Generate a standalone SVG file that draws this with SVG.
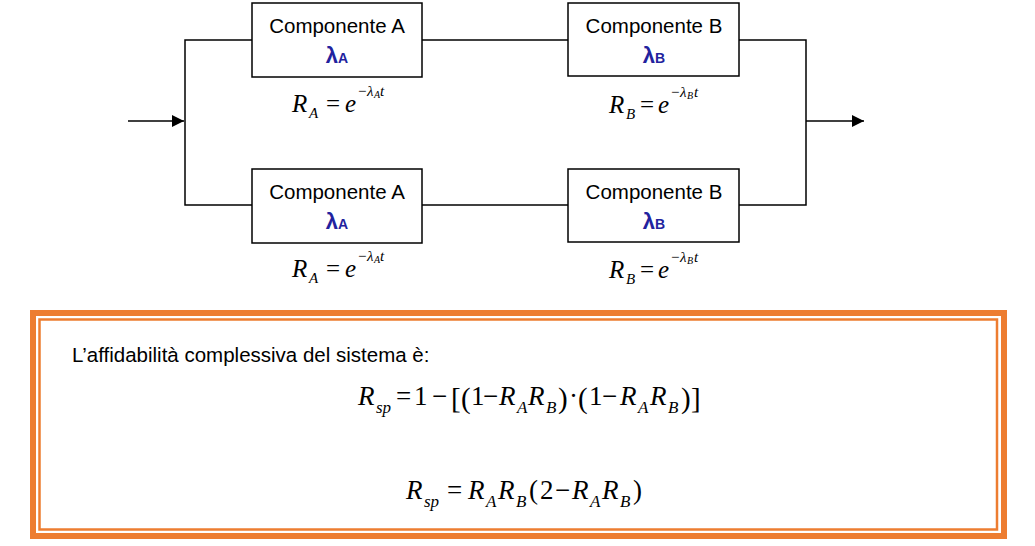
<svg xmlns="http://www.w3.org/2000/svg" width="1035" height="546" viewBox="0 0 1035 546">
<style>
.box{fill:#fff;stroke:#000;stroke-width:1.5}
.lbl{font-family:"Liberation Sans",Arial,sans-serif;font-size:20.5px;fill:#000;text-anchor:middle}
.lam{font-family:"Liberation Sans",Arial,sans-serif;font-weight:bold;fill:#22229E;text-anchor:middle}
.m{font-family:"Liberation Serif","Times New Roman",serif;fill:#000}
.i{font-style:italic}
.line{fill:none;stroke:#000;stroke-width:1.5}
</style>
<defs>
<marker id="ah" viewBox="0 0 12 12" refX="12" refY="6" markerWidth="12" markerHeight="12" markerUnits="userSpaceOnUse" orient="auto">
<path d="M0,0 L12,6 L0,12 z" fill="#000"/>
</marker>
</defs>
<g id="connectors">
<path class="line" d="M252,40 H185 V205 H252"/>
<path class="line" d="M422,40 H568"/>
<path class="line" d="M422,205 H568"/>
<path class="line" d="M739,40 H806 V205 H739"/>
<path class="line" d="M128,121 H184" marker-end="url(#ah)"/>
<path class="line" d="M806,121 H864" marker-end="url(#ah)"/>
</g>
<g id="nodeA1">
<rect class="box" x="252" y="3" width="170" height="74"/>
<text class="lbl" x="337" y="33">Componente A</text>
<text class="lam" x="337" y="63" font-size="22">λ<tspan font-size="14">A</tspan></text>
</g>
<g id="nodeB1">
<rect class="box" x="568" y="3" width="171" height="73"/>
<text class="lbl" x="654" y="33">Componente B</text>
<text class="lam" x="654" y="63" font-size="22">λ<tspan font-size="14">B</tspan></text>
</g>
<g id="nodeA2">
<rect class="box" x="252" y="169" width="170" height="74"/>
<text class="lbl" x="337" y="199">Componente A</text>
<text class="lam" x="337" y="229" font-size="22">λ<tspan font-size="14">A</tspan></text>
</g>
<g id="nodeB2">
<rect class="box" x="568" y="169" width="171" height="73"/>
<text class="lbl" x="654" y="199">Componente B</text>
<text class="lam" x="654" y="229" font-size="22">λ<tspan font-size="14">B</tspan></text>
</g>
<g id="eqA1">
<text class="m" font-size="25"><tspan class="i" x="292" y="112">R</tspan><tspan class="i" x="309" y="118" font-size="15">A</tspan><tspan x="326" y="112">=</tspan><tspan class="i" x="345" y="112">e</tspan><tspan x="358" y="96" font-size="15">−</tspan><tspan class="i" x="367" y="96" font-size="15">λ</tspan><tspan class="i" x="374" y="98" font-size="10">A</tspan><tspan class="i" x="380" y="96" font-size="15">t</tspan></text>
</g>
<g id="eqB1">
<text class="m" font-size="25"><tspan class="i" x="609" y="113">R</tspan><tspan class="i" x="626" y="119" font-size="15">B</tspan><tspan x="640" y="113">=</tspan><tspan class="i" x="658" y="113">e</tspan><tspan x="671" y="97" font-size="15">−</tspan><tspan class="i" x="680" y="97" font-size="15">λ</tspan><tspan class="i" x="687" y="99" font-size="10">B</tspan><tspan class="i" x="694" y="97" font-size="15">t</tspan></text>
</g>
<g id="eqA2">
<text class="m" font-size="25"><tspan class="i" x="292" y="277">R</tspan><tspan class="i" x="309" y="283" font-size="15">A</tspan><tspan x="326" y="277">=</tspan><tspan class="i" x="345" y="277">e</tspan><tspan x="358" y="261" font-size="15">−</tspan><tspan class="i" x="367" y="261" font-size="15">λ</tspan><tspan class="i" x="374" y="263" font-size="10">A</tspan><tspan class="i" x="380" y="261" font-size="15">t</tspan></text>
</g>
<g id="eqB2">
<text class="m" font-size="25"><tspan class="i" x="609" y="278">R</tspan><tspan class="i" x="626" y="284" font-size="15">B</tspan><tspan x="640" y="278">=</tspan><tspan class="i" x="658" y="278">e</tspan><tspan x="671" y="262" font-size="15">−</tspan><tspan class="i" x="680" y="262" font-size="15">λ</tspan><tspan class="i" x="687" y="264" font-size="10">B</tspan><tspan class="i" x="694" y="262" font-size="15">t</tspan></text>
</g>
<g id="result">
<rect x="33" y="313" width="971" height="223" fill="none" stroke="#ED7D31" stroke-width="6"/>
<rect x="39.5" y="319.5" width="957.5" height="210" fill="none" stroke="#ED7D31" stroke-width="2.5"/>
<text x="72" y="362" font-family="Liberation Sans,Arial,sans-serif" font-size="20.5" fill="#000">L’affidabilità complessiva del sistema è:</text>
<text id="f1" class="m" font-size="27"><tspan class="i" x="358" y="405">R</tspan><tspan class="i" x="376" y="413" font-size="17">sp</tspan><tspan x="396" y="405">=</tspan><tspan x="414" y="405">1</tspan><tspan x="432" y="405">−</tspan><tspan x="451" y="408" font-size="29">[</tspan><tspan x="461" y="408" font-size="29">(</tspan><tspan x="471" y="405">1</tspan><tspan x="483" y="405">−</tspan><tspan class="i" x="499" y="405">R</tspan><tspan class="i" x="517" y="413" font-size="17">A</tspan><tspan class="i" x="528" y="405">R</tspan><tspan class="i" x="546" y="413" font-size="17">B</tspan><tspan x="558" y="408" font-size="29">)</tspan><tspan x="569" y="405">·</tspan><tspan x="578" y="408" font-size="29">(</tspan><tspan x="589" y="405">1</tspan><tspan x="602" y="405">−</tspan><tspan class="i" x="620" y="405">R</tspan><tspan class="i" x="638" y="413" font-size="17">A</tspan><tspan class="i" x="650" y="405">R</tspan><tspan class="i" x="668" y="413" font-size="17">B</tspan><tspan x="681" y="408" font-size="29">)</tspan><tspan x="691" y="408" font-size="29">]</tspan></text>
<text id="f2" class="m" font-size="27"><tspan class="i" x="406" y="499">R</tspan><tspan class="i" x="424" y="507" font-size="17">sp</tspan><tspan x="447" y="499">=</tspan><tspan class="i" x="468" y="499">R</tspan><tspan class="i" x="486" y="507" font-size="17">A</tspan><tspan class="i" x="498" y="499">R</tspan><tspan class="i" x="516" y="507" font-size="17">B</tspan><tspan x="529" y="499">(</tspan><tspan x="540" y="499">2</tspan><tspan x="555" y="499">−</tspan><tspan class="i" x="572" y="499">R</tspan><tspan class="i" x="590" y="507" font-size="17">A</tspan><tspan class="i" x="602" y="499">R</tspan><tspan class="i" x="620" y="507" font-size="17">B</tspan><tspan x="633" y="499">)</tspan></text>
</g>
</svg>
